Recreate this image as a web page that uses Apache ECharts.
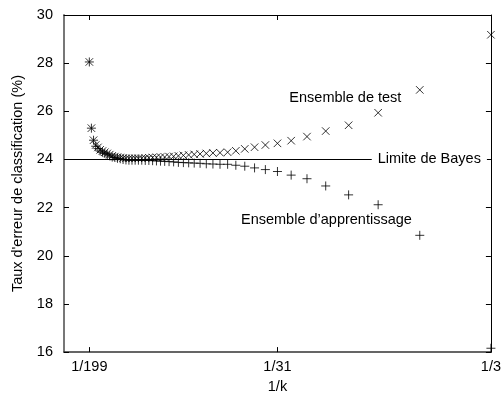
<!DOCTYPE html>
<html>
<head>
<meta charset="utf-8">
<script src="https://cdn.jsdelivr.net/npm/echarts@6/dist/echarts.min.js"></script>
<style>
html,body{margin:0;padding:0;background:#fff;}
#chart{width:504px;height:399px;}
</style>
</head>
<body>
<div id="chart"></div>
<script>
// k values (neighbours), from left (large k) to right (small k)
var kValues = [199,195,191,187,183,179,175,171,167,163,159,155,151,147,143,139,135,131,127,123,119,115,111,107,103,99,95,91,87,83,79,75,71,67,63,59,55,51,47,43,39,35,31,27,23,19,15,11,7,3];
// test-set error (%)
var testErr = [28.05,25.3,24.8,24.6,24.5,24.4,24.35,24.3,24.25,24.2,24.15,24.12,24.1,24.08,24.06,24.05,24.05,24.05,24.05,24.05,24.05,24.06,24.07,24.08,24.09,24.1,24.1,24.12,24.13,24.15,24.17,24.19,24.21,24.23,24.25,24.27,24.28,24.3,24.36,24.44,24.51,24.6,24.67,24.78,24.95,25.18,25.42,25.94,26.89,29.18];
// training-set error (%)
var trainErr = [28.05,25.3,24.8,24.55,24.45,24.35,24.3,24.25,24.2,24.15,24.1,24.08,24.05,24.03,24.0,23.98,23.97,23.97,23.97,23.97,23.97,23.96,23.96,23.95,23.94,23.93,23.92,23.91,23.9,23.88,23.87,23.86,23.85,23.84,23.82,23.81,23.8,23.8,23.76,23.72,23.65,23.58,23.5,23.35,23.2,22.9,22.53,22.12,20.85,16.16];
var bayesLimit = 24;
var xTickK = [199, 31, 3];

var FONT = 'Liberation Sans, Arial, sans-serif';
var FS = 14.5;

// axis coordinate is k+1 on a base-2 log scale (reversed)
function pos(k){ return k + 1; }
var xTickPos = xTickK.map(pos);

var testData = kValues.map(function(k,i){ return [pos(k), testErr[i]]; });
var trainData = kValues.map(function(k,i){ return [pos(k), trainErr[i]]; });

var chart = echarts.init(document.getElementById('chart'), null, {renderer:'canvas'});

var crossPath = 'path://M0,0L10,10M10,0L0,10';
var plusPath = 'path://M5,0L5,10M0,5L10,5';

var xBase = {
  type: 'log', logBase: 2, min: 4, max: 256, inverse: true,
  splitLine: {show:false}, minorTick:{show:false}
};

function textMark(coord, text, align){
  return {
    coord: coord, value: text,
    symbol: 'rect', symbolSize: 1,
    itemStyle: {color: 'rgba(0,0,0,0)'},
    label: {show: true, position: 'inside', align: align, verticalAlign: 'middle',
      formatter: text, fontFamily: FONT, fontSize: FS, color: '#000'}
  };
}

var option = {
  animation: false,
  backgroundColor: '#fff',
  textStyle: {fontFamily: FONT},
  grid: {left: 64, right: 8, top: 15, bottom: 43, containLabel: false},
  xAxis: [
    Object.assign({}, xBase, {
      position: 'bottom',
      name: '1/k', nameLocation: 'middle', nameGap: 24,
      nameTextStyle: {fontFamily: FONT, fontSize: FS, color: '#000'},
      axisLine: {show: true, onZero: false, lineStyle: {color: '#333', width: 1.5}},
      axisTick: {show: true, inside: true, length: 5, customValues: xTickPos, lineStyle:{color:'#000'}},
      axisLabel: {show: true, customValues: xTickPos, margin: 7, fontFamily: FONT, fontSize: FS, color: '#000',
        formatter: function(v){ return '1/' + Math.round(v - 1); }}
    }),
    Object.assign({}, xBase, {
      position: 'top',
      axisLine: {show: true, onZero: false, lineStyle: {color: '#000', width: 1}},
      axisTick: {show: true, inside: true, length: 5, customValues: xTickPos, lineStyle:{color:'#000'}},
      axisLabel: {show: false}
    })
  ],
  yAxis: [
    {
      type: 'value', min: 16, max: 30, interval: 2, position: 'left',
      name: "Taux d'erreur de classification (%)", nameLocation: 'middle', nameGap: 36, nameRotate: 90,
      nameTextStyle: {fontFamily: FONT, fontSize: FS, color: '#000'},
      splitLine: {show: false},
      axisLine: {show: true, onZero: false, lineStyle: {color: '#777', width: 2}},
      axisTick: {show: true, inside: true, length: 5, lineStyle:{color:'#000'}},
      axisLabel: {margin: 11, fontFamily: FONT, fontSize: FS, color: '#000'}
    },
    {
      type: 'value', min: 16, max: 30, interval: 2, position: 'right',
      splitLine: {show: false},
      axisLine: {show: true, onZero: false, lineStyle: {color: '#000', width: 1}},
      axisTick: {show: true, inside: true, length: 5, lineStyle:{color:'#000'}},
      axisLabel: {show: false}
    }
  ],
  series: [
    {
      name: 'Bayes', type: 'line', data: [], z: 1,
      markLine: {
        symbol: ['none','none'], silent: true, animation: false, z: 1,
        lineStyle: {color: '#000', width: 1, type: 'solid'},
        label: {show: true, position: 'insideStart', formatter: 'Limite de Bayes', distance: 4,
          backgroundColor: '#fff', padding: [2, 6, 2, 6], fontFamily: FONT, fontSize: FS, color: '#000'},
        data: [{yAxis: bayesLimit}]
      }
    },
    {
      name: 'Ensemble de test', type: 'scatter', xAxisIndex: 0, yAxisIndex: 0, z: 3,
      data: testData, symbol: crossPath, symbolSize: 7.5,
      itemStyle: {color: 'rgba(0,0,0,0)', borderColor: '#000', borderWidth: 1},
      emphasis: {disabled: true}, silent: true,
      markPoint: {silent: true, data: [textMark([28.5, 26.55], 'Ensemble de test', 'left')]}
    },
    {
      name: "Ensemble d'apprentissage", type: 'scatter', xAxisIndex: 0, yAxisIndex: 0, z: 3,
      data: trainData, symbol: plusPath, symbolSize: 9,
      itemStyle: {color: 'rgba(0,0,0,0)', borderColor: '#000', borderWidth: 1},
      emphasis: {disabled: true}, silent: true,
      markPoint: {silent: true, data: [textMark([8.64, 21.5], "Ensemble d\u2019apprentissage", 'right')]}
    }
  ]
};
chart.setOption(option);
</script>
</body>
</html>
